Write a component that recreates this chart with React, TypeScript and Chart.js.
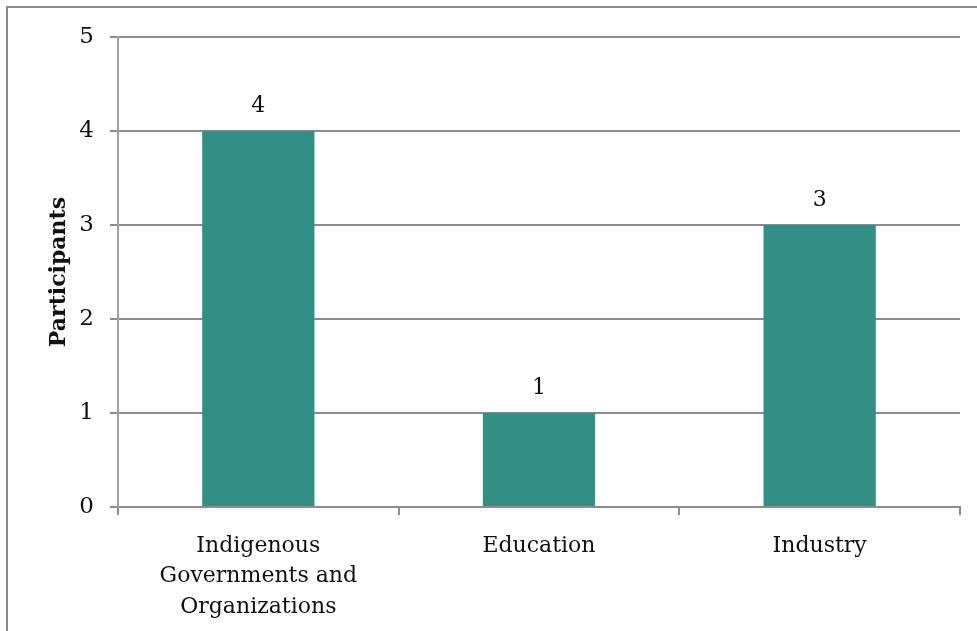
import React, { useEffect, useRef } from "react";
import { Chart, registerables } from "chart.js";

Chart.register(...registerables);

const categories: string[][] = [
  ["Indigenous", "Governments and", "Organizations"],
  ["Education"],
  ["Industry"],
];
const participants: number[] = [4, 1, 3];
const yTicks: number[] = [0, 1, 2, 3, 4, 5];

const FONT = "'DejaVu Serif', serif";
const GRID = "#8c8c8c";

const framePlugin = {
  id: "frame",
  beforeDraw(chart: any) {
    const ctx = chart.ctx;
    ctx.save();
    ctx.fillStyle = "#ffffff";
    ctx.fillRect(0, 0, chart.width, chart.height);
    ctx.strokeStyle = "#8a8a8a";
    ctx.lineWidth = 2;
    ctx.beginPath();
    ctx.moveTo(7, chart.height);
    ctx.lineTo(7, 7);
    ctx.lineTo(chart.width, 7);
    ctx.stroke();
    ctx.restore();
  },
};

const valueLabels = {
  id: "valueLabels",
  afterDatasetsDraw(chart: any) {
    const ctx = chart.ctx;
    const meta = chart.getDatasetMeta(0);
    ctx.save();
    ctx.fillStyle = "#111111";
    ctx.font = `22px ${FONT}`;
    ctx.textAlign = "center";
    ctx.textBaseline = "middle";
    meta.data.forEach((bar: any, i: number) => {
      ctx.fillText(String(chart.data.datasets[0].data[i]), bar.x, bar.y - 25);
    });
    ctx.restore();
  },
};

export default function App() {
  const ref = useRef<HTMLCanvasElement | null>(null);
  useEffect(() => {
    if (!ref.current) return;
    const chart = new Chart(ref.current, {
      type: "bar",
      data: {
        labels: categories,
        datasets: [
          {
            data: participants,
            backgroundColor: "#318f85",
            borderWidth: 0,
            barPercentage: 0.4,
            categoryPercentage: 1,
          },
        ],
      },
      options: {
        responsive: false,
        animation: false,
        layout: { padding: { left: 0, top: 37, right: 17, bottom: 0 } },
        plugins: { legend: { display: false }, tooltip: { enabled: false } },
        scales: {
          x: {
            grid: {
              offset: true,
              drawOnChartArea: false,
              tickLength: 8,
              color: GRID,
              lineWidth: 2,
            },
            border: { color: GRID, width: 2 },
            ticks: {
              color: "#111111",
              font: { family: FONT, size: 22, lineHeight: 1.38 },
              padding: 16,
              maxRotation: 0,
              autoSkip: false,
            },
            afterFit(scale: any) {
              scale.height = 631 - 507;
            },
          },
          y: {
            min: 0,
            max: 5,
            afterBuildTicks(scale: any) {
              scale.ticks = yTicks.map((v) => ({ value: v }));
            },
            grid: { color: GRID, lineWidth: 2, tickLength: 8 },
            border: { color: "#a0a0a0", width: 2 },
            ticks: {
              color: "#111111",
              font: { family: FONT, size: 23 },
              padding: 16,
            },
            title: {
              display: true,
              text: "Participants",
              color: "#111111",
              font: { family: FONT, size: 22, weight: "bold" },
              padding: { top: 46, bottom: 0 },
            },
            afterFit(scale: any) {
              scale.width = 118;
            },
          },
        },
      },
      plugins: [framePlugin, valueLabels],
    });
    return () => chart.destroy();
  }, []);
  return (
    <div style={{ position: "fixed", left: 0, top: 0, width: 977, height: 631 }}>
      <canvas ref={ref} width={977} height={631} style={{ display: "block" }} />
    </div>
  );
}
